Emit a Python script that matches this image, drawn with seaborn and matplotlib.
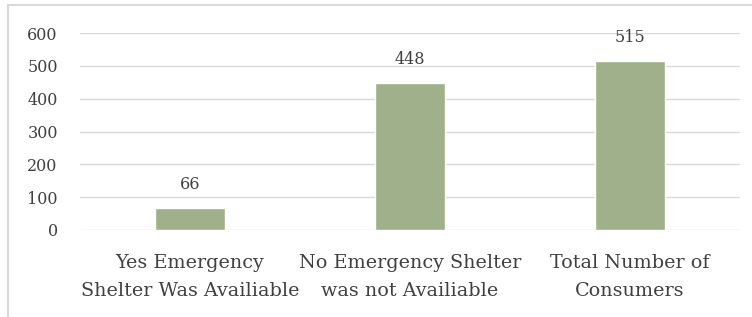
import matplotlib
matplotlib.use("Agg")
import matplotlib.pyplot as plt
import seaborn as sns
import pandas as pd
from matplotlib.patches import Rectangle

# data
categories = ["Yes Emergency\nShelter Was Availiable",
              "No Emergency Shelter\nwas not Availiable",
              "Total Number of\nConsumers"]
counts = [66, 448, 515]
yticks = [0, 100, 200, 300, 400, 500, 600]

df = pd.DataFrame({"category": categories, "count": counts})

sns.set_style("white")
plt.rcParams["font.family"] = ["DejaVu Serif", "Liberation Serif"]
text_col = "#404040"

fig = plt.figure(figsize=(7.52, 3.17), dpi=100)
ax = fig.add_axes([80 / 752, (317 - 230) / 317, 660 / 752, 197 / 317])

sns.barplot(data=df, x="category", y="count", color="#9FB08A",
            width=0.315, saturation=1, ax=ax, zorder=3)

ax.set_ylim(0, 600)
ax.set_xlim(-0.5, 2.5)
ax.set_yticks(yticks)
ax.yaxis.grid(True, color="#D9D9D9", linewidth=1, zorder=0)
ax.set_axisbelow(True)
for s in ax.spines.values():
    s.set_visible(False)
ax.set_xlabel("")
ax.set_ylabel("")
ax.tick_params(axis="y", length=0, pad=16, labelsize=11.5, labelcolor=text_col)
ax.tick_params(axis="x", length=0, pad=17, labelsize=13.8, labelcolor=text_col)
for lab in ax.get_xticklabels():
    lab.set_linespacing(1.75)

for c in ax.containers:
    ax.bar_label(c, labels=[str(v) for v in counts], padding=11,
                 fontsize=11.5, color=text_col)

# light frame round the chart area
fig.patches.append(Rectangle((8 / 752, -0.1), 1.2, (317 - 5) / 317 + 0.1,
                             transform=fig.transFigure, fill=False,
                             edgecolor="#D9D9D9", linewidth=1.5))

fig.savefig("out.png", dpi=100)
